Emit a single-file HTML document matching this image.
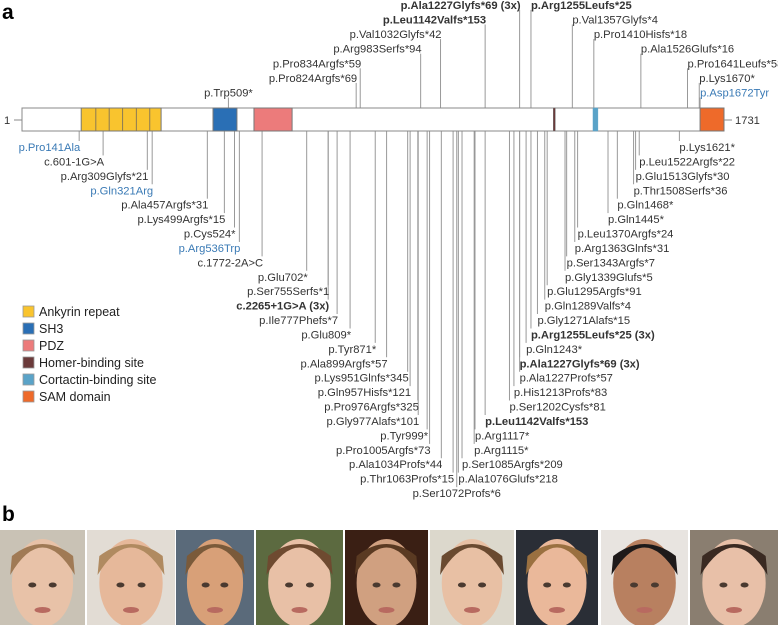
<!DOCTYPE html>
<html><head><meta charset="utf-8">
<style>
html,body{margin:0;padding:0;background:#fff;}
svg{display:block;font-family:"Liberation Sans",Arial,sans-serif;}
</style></head>
<body>
<svg id="fig" width="778" height="625" viewBox="0 0 778 625">
<text x="2" y="19" font-size="21" font-weight="bold">a</text>
<text x="2" y="521" font-size="21" font-weight="bold">b</text>
<g id="lines"></g>
<g id="protein"></g>
<g id="labels"></g>
<g id="legend"></g>
<g id="photos"></g>
</svg>
<script>
// protein length and domains (residues)
const proteinLength = 1731;
const domainNames = ["Ankyrin repeat","SH3","PDZ","Homer-binding site","Cortactin-binding site","SAM domain"];
const domainColors = ["#f9c42e","#2a6fb5","#ec7b7b","#6b3a3a","#5aa3c8","#ee6a2a"];
const domainStarts = [146,471,572,1310,1408,1672];
const domainEnds   = [343,530,666,1315,1420,1731];
const ankyrinBounds = [146,182,215,248,282,315,343];

// above-bar mutations
const aboveLeftNames = ["p.Trp509*","p.Pro824Argfs*69","p.Pro834Argfs*59","p.Arg983Serfs*94","p.Val1032Glyfs*42","p.Leu1142Valfs*153","p.Ala1227Glyfs*69 (3x)"];
const aboveLeftRes = [509,824,834,983,1032,1142,1227];
const aboveRightNames = ["p.Asp1672Tyr","p.Lys1670*","p.Pro1641Leufs*58","p.Ala1526Glufs*16","p.Pro1410Hisfs*18","p.Val1357Glyfs*4","p.Arg1255Leufs*25"];
const aboveRightRes = [1672,1670,1641,1526,1410,1357,1255];

// below-bar mutations
const belowLeftNames = ["p.Pro141Ala","c.601-1G>A","p.Arg309Glyfs*21","p.Gln321Arg","p.Ala457Argfs*31","p.Lys499Argfs*15","p.Cys524*","p.Arg536Trp","c.1772-2A>C","p.Glu702*","p.Ser755Serfs*1","c.2265+1G>A (3x)","p.Ile777Phefs*7","p.Glu809*","p.Tyr871*","p.Ala899Argfs*57","p.Lys951Glnfs*345","p.Gln957Hisfs*121","p.Pro976Argfs*325","p.Gly977Alafs*101","p.Tyr999*","p.Pro1005Argfs*73","p.Ala1034Profs*44","p.Thr1063Profs*15","p.Ser1072Profs*6"];
const belowLeftRes = [141,200,309,321,457,499,524,536,592,702,755,755,777,809,871,899,951,957,976,977,999,1005,1034,1063,1072];
const belowRightNames = ["p.Lys1621*","p.Leu1522Argfs*22","p.Glu1513Glyfs*30","p.Thr1508Serfs*36","p.Gln1468*","p.Gln1445*","p.Leu1370Argfs*24","p.Arg1363Glnfs*31","p.Ser1343Argfs*7","p.Gly1339Glufs*5","p.Glu1295Argfs*91","p.Gln1289Valfs*4","p.Gly1271Alafs*15","p.Arg1255Leufs*25 (3x)","p.Gln1243*","p.Ala1227Glyfs*69 (3x)","p.Ala1227Profs*57","p.His1213Profs*83","p.Ser1202Cysfs*81","p.Leu1142Valfs*153","p.Arg1117*","p.Arg1115*","p.Ser1085Argfs*209","p.Ala1076Glufs*218"];
const belowRightRes = [1621,1522,1513,1508,1468,1445,1370,1363,1343,1339,1295,1289,1271,1255,1243,1227,1227,1213,1202,1142,1117,1115,1085,1076];

const boldSet = ["p.Leu1142Valfs*153","p.Ala1227Glyfs*69 (3x)","p.Arg1255Leufs*25","p.Arg1255Leufs*25 (3x)","c.2265+1G>A (3x)"];
const blueSet = ["p.Pro141Ala","p.Gln321Arg","p.Arg536Trp","p.Asp1672Tyr"];

const NS="http://www.w3.org/2000/svg";
const X0=22, X1=724, BAR_T=108, BAR_B=131, FS=11.2;
const xs = r => X0 + (r/proteinLength)*(X1-X0);
const belowY = i => 147 + i*14.42;
const aboveY = i => 92.5 - i*14.6;
function mk(tag, attrs, parent){const e=document.createElementNS(NS,tag);for(const k in attrs)e.setAttribute(k,attrs[k]);parent.appendChild(e);return e;}
const gL=document.getElementById('lines'), gP=document.getElementById('protein'), gT=document.getElementById('labels'), gLeg=document.getElementById('legend'), gPh=document.getElementById('photos');

// protein bar
let bar=mk('rect',{x:X0,y:BAR_T,width:X1-X0,height:BAR_B-BAR_T,fill:'#fff',stroke:'#888','stroke-width':1},gP);


domainStarts.forEach((s,i)=>{
  const r=mk('rect',{x:xs(s),y:BAR_T,width:Math.max(2,xs(domainEnds[i])-xs(s)),height:BAR_B-BAR_T,fill:domainColors[i],stroke:i==4?'#5aa3c8':'#777','stroke-width':i==3||i==4?0.5:1},gP);
  
  
});
for(let k=1;k<ankyrinBounds.length-1;k++){
  const l=mk('line',{x1:xs(ankyrinBounds[k]),x2:xs(ankyrinBounds[k]),y1:BAR_T,y2:BAR_B,stroke:'#8a7a55','stroke-width':1},gP);
  
  
}
mk('line',{x1:14,x2:X0,y1:120,y2:120,stroke:'#888'},gP);
mk('line',{x1:X1,x2:732,y1:120,y2:120,stroke:'#888'},gP);
let t1=mk('text',{x:4,y:124,'font-size':FS,fill:'#333'},gP);t1.textContent='1';


let t2=mk('text',{x:735,y:124,'font-size':FS,fill:'#333'},gP);t2.textContent='1731';



function label(name,res,y,anchor,above,centered){
  const x=xs(res);
  const ln = above ? mk('line',{x1:x,x2:x,y1:y+5,y2:BAR_T,stroke:'#999','stroke-width':1},gL)
                   : mk('line',{x1:x,x2:x,y1:BAR_B,y2:y-6,stroke:'#999','stroke-width':1},gL);
  
  
  const t=mk('text',{x:centered?x:(anchor=='end'?x+1:x),y:y+4,'font-size':FS,'text-anchor':centered?'middle':anchor,
    fill:blueSet.includes(name)?'#3a7ab5':'#333','font-weight':boldSet.includes(name)?'bold':'normal'},gT);
  t.textContent=name;
  
  
}
aboveLeftNames.forEach((n,i)=>label(n,aboveLeftRes[i],aboveY(i),'end',true,i==0));
aboveRightNames.forEach((n,i)=>label(n,aboveRightRes[i],aboveY(i),'start',true,false));
belowLeftNames.forEach((n,i)=>label(n,belowLeftRes[i],belowY(i),'end',false,i==belowLeftNames.length-1));
belowRightNames.forEach((n,i)=>label(n,belowRightRes[i],belowY(i),'start',false,false));

// legend
domainNames.forEach((n,i)=>{
  const y=312+i*17;
  const r=mk('rect',{x:23,y:y-6,width:11,height:11,fill:domainColors[i],stroke:'#999','stroke-width':0.8},gLeg);
  
  
  const t=mk('text',{x:39,y:y+4,'font-size':12.5,fill:'#222'},gLeg);
  t.textContent=n;
  
  
});

// photos (approximated)
const photoX=[0,87,176,256,345,430,516,601,690];
const photoW=[85,88,78,87,83,84,82,87,88];
const photoBg=["#c9c2b5","#e2dcd4","#5a6a7a","#5c6a40","#3a1f14","#dcd8cc","#2a2e36","#e8e4e0","#8a7e70"];
const photoHair=["#a07a55","#b08a60","#7a5a3a","#6e4a30","#5a3a22","#6a4a30","#9a7040","#1e1a1a","#3a2a22"];
const photoSkin=["#e8c2a8","#e6b89a","#d8a078","#e8c0a6","#d0a080","#e8c0a4","#eab89a","#b88060","#e8c0a8"];
photoX.forEach((x,i)=>{
  const g=mk('g',{},gPh);
  
  
  const w=photoW[i];
  mk('rect',{x:x,y:530,width:w,height:95,fill:photoBg[i]},g);
  mk('ellipse',{cx:x+w/2,cy:583,rx:w*0.36,ry:44,fill:photoSkin[i]},g);
  mk('path',{d:`M${x+w*0.12} ${575} Q${x+w/2} ${520} ${x+w*0.88} ${575} L${x+w*0.86} ${556} Q${x+w/2} ${532} ${x+w*0.14} ${556} Z`,fill:photoHair[i]},g);
  mk('ellipse',{cx:x+w*0.38,cy:585,rx:4,ry:2.5,fill:'#4a3a30'},g);
  mk('ellipse',{cx:x+w*0.62,cy:585,rx:4,ry:2.5,fill:'#4a3a30'},g);
  mk('ellipse',{cx:x+w/2,cy:610,rx:8,ry:3,fill:'#b86a60'},g);
});
</script>
</body></html>
